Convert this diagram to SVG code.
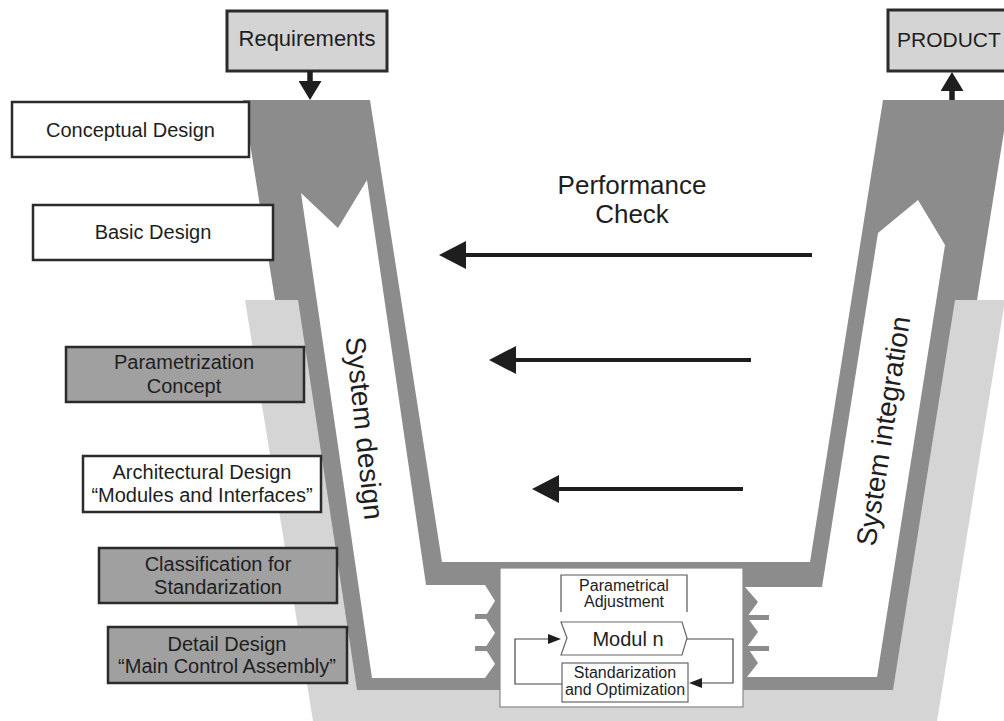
<svg xmlns="http://www.w3.org/2000/svg" width="1004" height="721" viewBox="0 0 1004 721">
  <defs>
    <style>
      text { font-family: "Liberation Sans", Arial, sans-serif; fill: #1e1e1e; }
      .lbl { font-size: 20px; text-anchor: middle; }
      .big { font-size: 22px; text-anchor: middle; }
      .small { font-size: 16px; text-anchor: middle; }
      .box-white { fill: #ffffff; stroke: #2b2b2b; stroke-width: 2.5; }
      .box-gray { fill: #a0a0a0; stroke: #2b2b2b; stroke-width: 2.5; }
      .box-top { fill: #d4d4d4; stroke: #2b2b2b; stroke-width: 3; }
      .dark { fill: #8c8c8c; }
      .light { fill: #d5d5d5; }
      .channel { fill: #ffffff; }
      .thin { fill: none; stroke: #555; stroke-width: 1.2; }
      .check { stroke: #1e1e1e; stroke-width: 4; fill: none; marker-end: url(#bigHead); }
      .io { stroke: #1e1e1e; stroke-width: 5.5; fill: none; marker-end: url(#ioHead); }
      .loop { stroke: #444; stroke-width: 1.2; fill: none; marker-end: url(#smallHead); }
    </style>
    <marker id="bigHead" viewBox="0 0 27 28" markerWidth="27" markerHeight="28" refX="1" refY="14" orient="auto" markerUnits="userSpaceOnUse">
      <path d="M0,0 L27,14 L0,28 z" fill="#1e1e1e"/>
    </marker>
    <marker id="ioHead" viewBox="0 0 19 23" markerWidth="19" markerHeight="23" refX="1" refY="11.5" orient="auto" markerUnits="userSpaceOnUse">
      <path d="M0,0 L19,11.5 L0,23 z" fill="#1e1e1e"/>
    </marker>
    <marker id="smallHead" viewBox="0 0 13 10" markerWidth="13" markerHeight="10" refX="1" refY="5" orient="auto" markerUnits="userSpaceOnUse">
      <path d="M0,0 L13,5 L0,10 z" fill="#1e1e1e"/>
    </marker>
  </defs>

  <rect x="0" y="0" width="1004" height="721" fill="#ffffff"/>

  <!-- standardization layer behind the V -->
  <g id="layer">
    <polygon class="light" points="245,300 305,300 365,685 885,685 948,300 1005,300 937,721 313,721"/>
  </g>

  <!-- V-shaped process frame -->
  <g id="frame">
    <polygon class="dark" points="243,100 370,100 442,562 810,562 883,100 1009,100 977,300 955,300 893,690 357,690 298,300 275,300"/>
    <!-- system design channel (left arm, flowing down) -->
    <polygon class="channel" points="301,193 338,228 367,180 426,585 485,585 495,601 485,617 495,633 485,648 495,664 485,678 372,678"/>
    <!-- system integration channel (right arm, flowing up) -->
    <polygon class="channel" points="745,587 822,587 878,233 918,200 945,245 877,677 747,677 758,663 747,647 758,632 747,617 758,602"/>
    <!-- interface bars at the module -->
    <rect class="dark" x="475" y="614" width="26" height="5"/>
    <rect class="dark" x="475" y="646" width="26" height="5"/>
    <rect class="dark" x="742" y="615" width="27" height="5"/>
    <rect class="dark" x="742" y="646" width="27" height="5"/>
    <text font-size="28" text-anchor="middle" transform="translate(365,428) rotate(84.1)" y="10">System design</text>
    <text font-size="28" text-anchor="middle" transform="translate(883,431) rotate(-81.3)" y="10">System integration</text>
  </g>

  <g id="requirements">
    <rect class="box-top" x="227" y="11" width="160" height="60"/>
    <text class="big" x="307" y="46">Requirements</text>
  </g>

  <g id="product">
    <rect class="box-top" x="888" y="10" width="130" height="61"/>
    <text x="897" y="47" font-size="21">PRODUCT</text>
  </g>

  <g id="conceptual-design">
    <rect class="box-white" x="12" y="102" width="237" height="55"/>
    <text class="lbl" x="130.5" y="137">Conceptual Design</text>
  </g>

  <g id="basic-design">
    <rect class="box-white" x="33" y="205" width="240" height="55"/>
    <text class="lbl" x="153" y="239">Basic Design</text>
  </g>

  <g id="parametrization-concept">
    <rect class="box-gray" x="66" y="347" width="238" height="55"/>
    <text class="lbl" x="184" y="369">Parametrization</text>
    <text class="lbl" x="184" y="393">Concept</text>
  </g>

  <g id="architectural-design">
    <rect class="box-white" x="83" y="456" width="238" height="56"/>
    <text class="lbl" x="202" y="479">Architectural Design</text>
    <text class="lbl" x="202" y="502">“Modules and Interfaces”</text>
  </g>

  <g id="classification">
    <rect class="box-gray" x="99" y="548" width="238" height="55"/>
    <text class="lbl" x="218" y="571">Classification for</text>
    <text class="lbl" x="218" y="594">Standarization</text>
  </g>

  <g id="detail-design">
    <rect class="box-gray" x="108" y="627" width="239" height="56"/>
    <text class="lbl" x="227" y="651">Detail Design</text>
    <text class="lbl" x="227" y="673">“Main Control Assembly”</text>
  </g>

  <g id="performance-check">
    <text font-size="26" text-anchor="middle" x="632" y="194">Performance</text>
    <text font-size="26" text-anchor="middle" x="632" y="223">Check</text>
  </g>

  <g id="module">
    <rect x="500" y="568" width="243" height="139" fill="#ffffff" stroke="#8a8a8a" stroke-width="1.2"/>
    <path class="thin" d="M561,612 V575 H687 V612"/>
    <text class="small" x="624" y="591">Parametrical</text>
    <text class="small" x="624" y="607">Adjustment</text>
    <polygon points="561,622 682,622 687,638 682,655 561,655 567,638" fill="#ffffff" stroke="#666" stroke-width="1.2"/>
    <text font-size="20" text-anchor="middle" x="628" y="646">Modul n</text>
    <rect x="562" y="663" width="126" height="39" fill="#ffffff" stroke="#666" stroke-width="1.2"/>
    <text class="small" x="625" y="678">Standarization</text>
    <text class="small" x="625" y="695">and Optimization</text>
  </g>

  <g id="connectors">
    <line class="io" x1="310" y1="71" x2="310" y2="82"/>
    <line class="io" x1="952" y1="100" x2="952" y2="90"/>
    <line class="check" x1="812" y1="255" x2="465" y2="255"/>
    <line class="check" x1="751" y1="360" x2="515" y2="360"/>
    <line class="check" x1="743" y1="489" x2="558" y2="489"/>
    <polyline class="loop" points="562,684 515,684 515,639 549,639"/>
    <polyline class="loop" points="687,639 733,639 733,683 701,683"/>
  </g>
</svg>
